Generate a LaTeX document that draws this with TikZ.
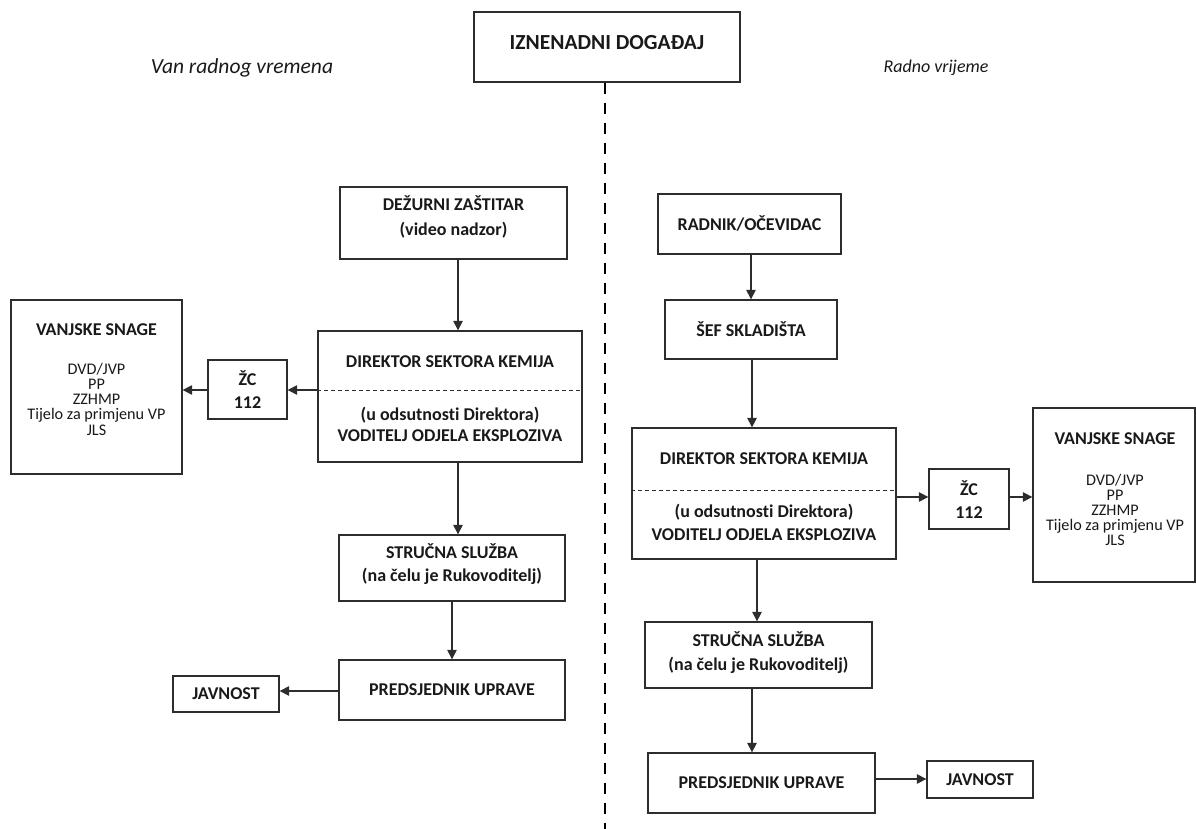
\documentclass[tikz,border=0pt]{standalone}
\usepackage{fontspec}
\setmainfont{Carlito}[Ligatures=NoCommon]
\usetikzlibrary{arrows.meta}
\definecolor{linec}{RGB}{45,45,45}
\definecolor{txtc}{RGB}{25,25,25}
\begin{document}
\begin{tikzpicture}[x=1pt,y=-1pt,
  box/.style={draw=linec, line width=1.3pt, inner sep=0pt, align=center, text=txtc, font=\bfseries\fontsize{18}{23}\selectfont},
  txt/.style={inner sep=0pt, anchor=base, text=txtc},
  bt/.style={txt, font=\bfseries\fontsize{18}{23}\selectfont},
  st/.style={txt, font=\fontsize{16.2}{15}\selectfont},
  arr/.style={draw=linec, line width=1.2pt, -{Triangle[length=9.5pt,width=9.5pt]}},
  sepline/.style={draw=linec, line width=0.8pt, dash pattern=on 4pt off 3pt},
  divider/.style={draw=black, line width=2.8pt, dash pattern=on 11pt off 9pt},
]
\useasboundingbox (0,0) rectangle (1196,829);

% ---------- top ----------
\node[box, minimum width=266, minimum height=70] (top) at (607,47) {};
\node[txt, font=\bfseries\fontsize{21.5}{23}\selectfont] (topT) at (607,49.8) {IZNENADNI DOGAĐAJ};
\coordinate (divEnd) at (605,829);
\draw[divider] (top.south -| divEnd) -- (divEnd);

\node[txt, font=\itshape\fontsize{21.5}{23}\selectfont] (lhs) at (242,73.8) {Van radnog vremena};
\node[txt, font=\itshape\fontsize{18}{23}\selectfont] (rhs) at (936,72.7) {Radno vrijeme};

% ---------- left column ----------
\node[box, minimum width=227, minimum height=72] (dez) at (453.5,223) {};
\node[bt] (dezA) at (453.5,210.7) {DEŽURNI ZAŠTITAR};
\node[bt] (dezB) at (453.5,235.7) {(video nadzor)};

\node[box, minimum width=264, minimum height=131] (dirL) at (450,396.5) {};
\node[bt] (dirLA) at (450,367.7) {DIREKTOR SEKTORA KEMIJA};
\node[bt] (dirLB) at (450,420.7) {(u odsutnosti Direktora)};
\node[bt] (dirLC) at (450,441.7) {VODITELJ ODJELA EKSPLOZIVA};
\coordinate (yL1) at (0,390);
\draw[sepline] (dirL.west |- yL1) -- (dirL.east |- yL1);

\node[box, minimum width=79, minimum height=59] (zcL) at (247.5,389.5) {};
\node[bt] (zcLA) at (247.5,385.7) {ŽC};
\node[bt] (zcLB) at (247.5,408.7) {112};

\node[box, minimum width=171, minimum height=174] (vanL) at (96.5,387) {};
\node[bt] (vanLT) at (96.5,335.7) {VANJSKE SNAGE};
\node[st] (vanL1) at (96.5,374.1) {DVD/JVP};
\node[st] (vanL2) at (96.5,389.3) {PP};
\node[st] (vanL3) at (96.5,404.6) {ZZHMP};
\node[st] (vanL4) at (96.5,419.9) {Tijelo za primjenu VP};
\node[st] (vanL5) at (96.5,435.1) {JLS};

\node[box, minimum width=226, minimum height=66] (strL) at (452,568) {};
\node[bt] (strLA) at (452,558.7) {STRUČNA SLUŽBA};
\node[bt] (strLB) at (452,581.7) {(na čelu je Rukovoditelj)};

\node[box, minimum width=226, minimum height=60] (preL) at (452,690) {PREDSJEDNIK UPRAVE};
\node[box, minimum width=106, minimum height=36] (javL) at (226,694) {JAVNOST};

\coordinate (xL1) at (458,0);
\coordinate (xL2) at (452,0);
\coordinate (yL2) at (0,691);
\draw[arr] (dez.south -| xL1) -- (dirL.north -| xL1);
\draw[arr] (dirL.west |- yL1) -- (zcL.east |- yL1);
\draw[arr] (zcL.west |- yL1) -- (vanL.east |- yL1);
\draw[arr] (dirL.south -| xL1) -- (strL.north -| xL1);
\draw[arr] (strL.south -| xL2) -- (preL.north -| xL2);
\draw[arr] (preL.west |- yL2) -- (javL.east |- yL2);

% ---------- right column ----------
\node[box, minimum width=183, minimum height=60] (rad) at (749.5,224) {RADNIK/OČEVIDAC};
\node[box, minimum width=172, minimum height=59] (sef) at (751,329.5) {ŠEF SKLADIŠTA};

\node[box, minimum width=264, minimum height=131] (dirR) at (764,493.5) {};
\node[bt] (dirRA) at (764,464.7) {DIREKTOR SEKTORA KEMIJA};
\node[bt] (dirRB) at (764,517.7) {(u odsutnosti Direktora)};
\node[bt] (dirRC) at (764,540.7) {VODITELJ ODJELA EKSPLOZIVA};
\coordinate (yR0) at (0,490);
\draw[sepline] (dirR.west |- yR0) -- (dirR.east |- yR0);

\node[box, minimum width=80, minimum height=60] (zcR) at (969,499) {};
\node[bt] (zcRA) at (969,495.7) {ŽC};
\node[bt] (zcRB) at (969,518.7) {112};

\node[box, minimum width=162, minimum height=174] (vanR) at (1114,495) {};
\node[bt] (vanRT) at (1115,444.7) {VANJSKE SNAGE};
\node[st] (vanR1) at (1115,485.1) {DVD/JVP};
\node[st] (vanR2) at (1115,500.1) {PP};
\node[st] (vanR3) at (1115,515.1) {ZZHMP};
\node[st] (vanR4) at (1115,530.1) {Tijelo za primjenu VP};
\node[st] (vanR5) at (1115,545.1) {JLS};

\node[box, minimum width=227, minimum height=66] (strR) at (758.5,655) {};
\node[bt] (strRA) at (758.5,646.7) {STRUČNA SLUŽBA};
\node[bt] (strRB) at (758.5,670.7) {(na čelu je Rukovoditelj)};

\node[box, minimum width=227, minimum height=60] (preR) at (761.5,783) {PREDSJEDNIK UPRAVE};
\node[box, minimum width=106, minimum height=37] (javR) at (980,779.5) {JAVNOST};

\coordinate (xR1) at (751,0);
\coordinate (xR2) at (752,0);
\coordinate (xR3) at (757,0);
\coordinate (yR1) at (0,497);
\coordinate (yR2) at (0,779);
\draw[arr] (rad.south -| xR1) -- (sef.north -| xR1);
\draw[arr] (sef.south -| xR2) -- (dirR.north -| xR2);
\draw[arr] (dirR.east |- yR1) -- (zcR.west |- yR1);
\draw[arr] (zcR.east |- yR1) -- (vanR.west |- yR1);
\draw[arr] (dirR.south -| xR3) -- (strR.north -| xR3);
\draw[arr] (strR.south -| xR2) -- (preR.north -| xR2);
\draw[arr] (preR.east |- yR2) -- (javR.west |- yR2);
\end{tikzpicture}
\end{document}
